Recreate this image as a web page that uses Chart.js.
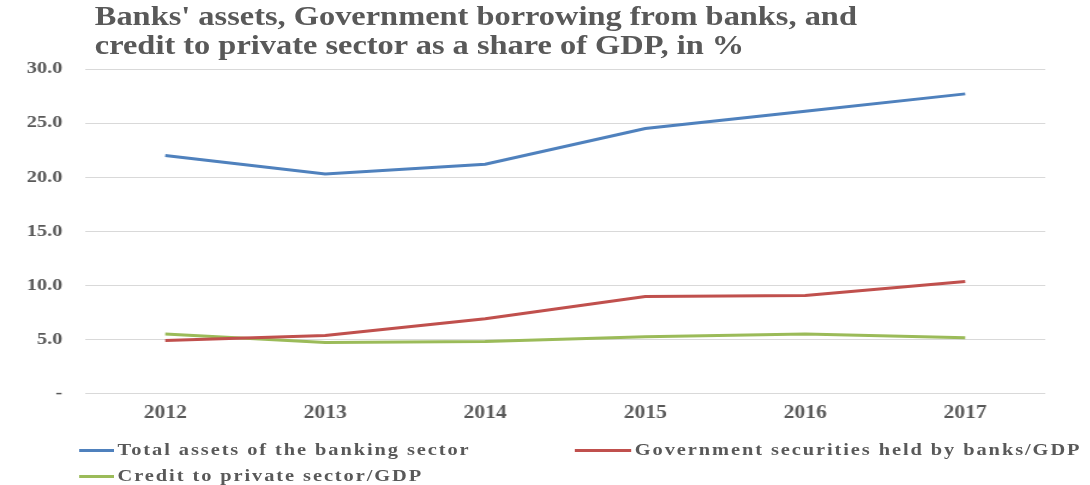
<!DOCTYPE html>
<html>
<head>
<meta charset="utf-8">
<script src="https://cdn.jsdelivr.net/npm/chart.js@4/dist/chart.umd.min.js"></script>
<style>
  html, body { margin: 0; padding: 0; background: #fff; }
  body { width: 1090px; height: 485px; overflow: hidden; }
  /* whole figure is drawn narrow and stretched sideways */
  #stage {
    position: absolute; left: 0; top: 0;
    width: 908px; height: 485px;
    transform: scaleX(1.2); transform-origin: 0 0;
    font-family: "Liberation Serif", "Times New Roman", serif;
    font-weight: bold; color: #595959;
  }
  #title {
    position: absolute; left: 79px; top: 2px;
    font-size: 27px; line-height: 29px; font-weight: 700;
  }
  #chart { position: absolute; left: 0; top: 0; }
  #legend { position: absolute; left: 0; top: 440px; width: 908px; }
  .item {
    position: absolute; display: flex; align-items: center;
    font-size: 17px; letter-spacing: 1.6px; white-space: nowrap;
  }
  .swatch { height: 3px; margin-right: 3px; }
</style>
</head>
<body>
<div id="stage">
  <div id="title">Banks' assets, Government borrowing from banks, and<br>credit to private sector as a share of GDP, in %</div>
  <canvas id="chart" width="908" height="425"></canvas>
  <div id="legend"></div>
</div>
<script>
// ────────────────────────────────────────────────
// Data (% of GDP)
// ────────────────────────────────────────────────
const years = ['2012', '2013', '2014', '2015', '2016', '2017'];

const totalAssets   = [22.0, 20.3, 21.2, 24.5, 26.1, 27.7];
const govSecurities = [4.9, 5.35, 6.9, 8.95, 9.05, 10.35];
const privateCredit = [5.5, 4.7, 4.8, 5.25, 5.5, 5.15];

const seriesNames  = [
    'Total assets of the banking sector',
    'Government securities held by banks/GDP',
    'Credit to private sector/GDP'
];
const seriesColors = ['#4F81BD', '#C0504D', '#9BBB59'];

const yMin  = 0;
const yMax  = 30;
const yStep = 5;

const TEXT_GREY = '#595959';
const FONT      = '"Liberation Serif", "Times New Roman", serif';

// ────────────────────────────────────────────────
// Chart
// ────────────────────────────────────────────────
const seriesValues = [totalAssets, govSecurities, privateCredit];

const datasets = seriesValues.map((values, i) => ({
    label: seriesNames[i],
    data: values,
    borderColor: seriesColors[i],
    backgroundColor: seriesColors[i],
    borderWidth: 3,
    pointRadius: 0,
    tension: 0,
    fill: false
}));

new Chart(document.getElementById('chart'), {
    type: 'line',
    data: { labels: years, datasets },
    options: {
        responsive: false,
        animation: false,
        layout: { padding: { top: 69, right: 37, left: 0, bottom: 0 } },
        plugins: {
            legend: { display: false },
            tooltip: { enabled: false }
        },
        scales: {
            x: {
                offset: true,
                grid: { display: false },
                border: { display: false },
                ticks: {
                    color: TEXT_GREY,
                    font: { family: FONT, size: 18, weight: 'bold' },
                    padding: 1
                }
            },
            y: {
                min: yMin,
                max: yMax,
                afterFit: scale => { scale.width = 71; },
                grid: { color: '#D9D9D9', lineWidth: 1, drawTicks: false },
                border: { display: false },
                ticks: {
                    stepSize: yStep,
                    color: TEXT_GREY,
                    padding: 19,
                    font: { family: FONT, size: 17, weight: 'bold' },
                    callback: value => value === 0 ? '-' : value.toFixed(1)
                }
            }
        }
    }
});

// ────────────────────────────────────────────────
// Legend (two columns, left aligned)
// ────────────────────────────────────────────────
const legendEl    = document.getElementById('legend');
const legendSlots = [
    { left: 66, top: 0, line: 29 },
    { left: 479, top: 0, line: 47 },
    { left: 66, top: 26, line: 29 }
];

seriesNames.forEach((name, i) => {
    const slot = legendSlots[i];
    const item = document.createElement('div');
    item.className = 'item';
    item.style.left = slot.left + 'px';
    item.style.top  = slot.top + 'px';
    item.innerHTML = `<span class="swatch" style="width:${slot.line}px;background:${seriesColors[i]}"></span><span>${name}</span>`;
    legendEl.appendChild(item);
});
</script>
</body>
</html>
